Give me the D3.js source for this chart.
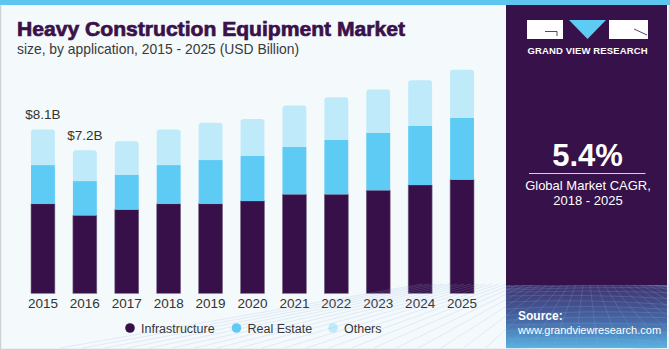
<!DOCTYPE html>
<html>
<head>
<meta charset="utf-8">
<script src="https://cdn.jsdelivr.net/npm/d3@7"></script>
<style>
html,body{margin:0;padding:0;background:#fff;}
svg{display:block;}
</style>
</head>
<body>
<svg id="chart" width="670" height="350"></svg>
<script>
const years = ["2015","2016","2017","2018","2019","2020","2021","2022","2023","2024","2025"];
const infrastructure = [4.42,3.85,4.13,4.42,4.42,4.56,4.89,4.89,5.09,5.35,5.61];
const realEstate     = [1.91,1.69,1.73,1.91,2.16,2.22,2.35,2.68,2.83,2.93,3.06];
const others         = [1.76,1.52,1.65,1.76,1.84,1.83,2.04,2.11,2.14,2.24,2.37];
const seriesNames = ["Infrastructure","Real Estate","Others"];
const valueLabels = [{year:"2015", text:"$8.1B"},{year:"2016", text:"$7.2B"}];

const colors = {"Infrastructure":"#381049","Real Estate":"#5ecbf5","Others":"#bfeafa"};

const svg = d3.select("#chart");
const W = 670, H = 350;

svg.append("rect").attr("x",0).attr("y",0).attr("width",W).attr("height",H).attr("fill","#f4f9fc");
svg.append("rect").attr("x",0.5).attr("y",0.5).attr("width",W-1).attr("height",H-1)
  .attr("fill","none").attr("stroke","#cfd3d6").attr("stroke-width",1.5);
svg.append("rect").attr("x",0).attr("y",0).attr("width",W).attr("height",5).attr("fill","#5cc6ee");

svg.append("text").attr("x",17).attr("y",36)
  .attr("font-family","'Liberation Sans', Arial, sans-serif").attr("font-weight","900")
  .attr("font-size",21).attr("fill","#3a1149")
  .attr("textLength",388).attr("lengthAdjust","spacingAndGlyphs")
  .style("stroke","#3a1149").style("stroke-width",0.7)
  .text("Heavy Construction Equipment Market");
svg.append("text").attr("x",17).attr("y",53.5)
  .attr("font-family","'Liberation Sans', Arial, sans-serif")
  .attr("font-size",14.5).attr("fill","#3a3a3a")
  .attr("textLength",282).attr("lengthAdjust","spacingAndGlyphs")
  .text("size, by application, 2015 - 2025 (USD Billion)");

const x = d3.scaleBand().domain(years).range([22,483]).paddingInner(0.43).paddingOuter(0.215);
const y = d3.scaleLinear().domain([0,10]).range([293.3, 293.3-202.5]);

const data = years.map((yr,i)=>({year:yr,"Infrastructure":infrastructure[i],"Real Estate":realEstate[i],"Others":others[i]}));
const stack = d3.stack().keys(seriesNames)(data);

const g = svg.append("g");
stack.forEach(layer=>{
  const key = layer.key;
  layer.forEach(d=>{
    const x0 = x(d.data.year), w = x.bandwidth();
    const yTop = y(d[1]), yBot = y(d[0]);
    if(key==="Others"){
      const r = 3;
      const p = `M${x0},${yBot} L${x0},${yTop+r} Q${x0},${yTop} ${x0+r},${yTop} L${x0+w-r},${yTop} Q${x0+w},${yTop} ${x0+w},${yTop+r} L${x0+w},${yBot} Z`;
      g.append("path").attr("d",p).attr("fill",colors[key]);
    } else {
      g.append("rect").attr("x",x0).attr("y",yTop).attr("width",w).attr("height",yBot-yTop)
        .attr("fill",colors[key])
        .attr("stroke", key==="Infrastructure" ? "#7a6a8a" : "none")
        .attr("stroke-width", key==="Infrastructure" ? 0.6 : 0);
    }
  });
});

valueLabels.forEach(v=>{
  const i = years.indexOf(v.year);
  const total = infrastructure[i]+realEstate[i]+others[i];
  svg.append("text").attr("x",x(v.year)+x.bandwidth()/2).attr("y",y(total)-10.5)
    .attr("text-anchor","middle").attr("font-family","'Liberation Sans', Arial, sans-serif")
    .attr("font-size",13.5).attr("fill","#333").text(v.text);
});

const xAxis = d3.axisBottom(x).tickSize(0).tickPadding(0);
const ax = svg.append("g").attr("transform","translate(0,308)").call(xAxis);
ax.select(".domain").remove();
ax.selectAll("text").attr("dy",0).attr("y",0)
  .attr("font-family","'Liberation Sans', Arial, sans-serif").attr("font-size",13.5).attr("fill","#333");

const legendPos = [{cx:130, tx:141},{cx:236.5, tx:247.5},{cx:333, tx:344}];
seriesNames.forEach((s,i)=>{
  svg.append("circle").attr("cx",legendPos[i].cx).attr("cy",328).attr("r",4.8).attr("fill",colors[s]);
  svg.append("text").attr("x",legendPos[i].tx).attr("y",332.5)
    .attr("font-family","'Liberation Sans', Arial, sans-serif").attr("font-size",12.5).attr("fill","#333").text(s);
});

const defs = svg.append("defs");
const grad = defs.append("linearGradient").attr("id","pg").attr("x1",0).attr("y1",0).attr("x2",0).attr("y2",1);
grad.append("stop").attr("offset","0%").attr("stop-color","#371149");
grad.append("stop").attr("offset","73%").attr("stop-color","#371149");
grad.append("stop").attr("offset","81%").attr("stop-color","#3e2f69");
grad.append("stop").attr("offset","92%").attr("stop-color","#4668a6");
grad.append("stop").attr("offset","100%").attr("stop-color","#5ab2e2");
const px = 506, pw = 667-506;
svg.append("rect").attr("x",px).attr("y",5).attr("width",pw).attr("height",343).attr("fill","url(#pg)");

const gridG = svg.append("g").attr("stroke","#8fb4e0").attr("stroke-opacity",0.35).attr("stroke-width",0.6).attr("fill","none");
const horizonY = 284;
for(let k=0;k<14;k++){
  const t = k/13;
  const yy = horizonY + Math.pow(t,1.6)*64;
  gridG.append("path").attr("d",`M${px},${yy+Math.sin(k)*2} Q${px+pw/2},${yy-4} ${px+pw},${yy+Math.cos(k)*2}`);
}
for(let k=-12;k<=24;k++){
  const xt = px + k*7;
  const xb = px + pw/2 + (xt - (px+pw/2))*3.2;
  gridG.append("line").attr("x1",xt).attr("y1",horizonY).attr("x2",xb).attr("y2",348);
}
svg.append("rect").attr("x",px).attr("y",5).attr("width",pw).attr("height",280).attr("fill","#371149");

const logo = svg.append("g");
logo.append("rect").attr("x",527).attr("y",20).attr("width",36).attr("height",19).attr("fill","#fff");
logo.append("path").attr("d","M545,31.5 L557,31.5 L557,36").attr("stroke","#371149").attr("stroke-width",0.8).attr("fill","none");
logo.append("path").attr("d","M569,20 L606,20 L587.5,39 Z").attr("fill","#5ecbf5");
logo.append("rect").attr("x",609).attr("y",20).attr("width",39).attr("height",19).attr("fill","#fff");
logo.append("path").attr("d","M634,29 L647,35").attr("stroke","#371149").attr("stroke-width",0.8);
svg.append("text").attr("x",587.5).attr("y",53.5).attr("text-anchor","middle")
  .attr("font-family","'Liberation Sans', Arial, sans-serif").attr("font-weight","bold")
  .attr("font-size",9.5).attr("fill","#fff").attr("textLength",120).attr("lengthAdjust","spacing")
  .text("GRAND VIEW RESEARCH");

svg.append("text").attr("x",587.5).attr("y",166).attr("text-anchor","middle")
  .attr("font-family","'Liberation Sans', Arial, sans-serif").attr("font-weight","bold")
  .attr("font-size",31).attr("fill","#fff").text("5.4%");
svg.append("line").attr("x1",529).attr("x2",645.5).attr("y1",173.5).attr("y2",173.5)
  .attr("stroke","#d8cfe0").attr("stroke-width",1);
svg.append("text").attr("x",588).attr("y",190).attr("text-anchor","middle")
  .attr("font-family","'Liberation Sans', Arial, sans-serif").attr("font-size",13).attr("fill","#fff")
  .text("Global Market CAGR,");
svg.append("text").attr("x",588).attr("y",205).attr("text-anchor","middle")
  .attr("font-family","'Liberation Sans', Arial, sans-serif").attr("font-size",13).attr("fill","#fff")
  .text("2018 - 2025");

svg.append("text").attr("x",518).attr("y",320)
  .attr("font-family","'Liberation Sans', Arial, sans-serif").attr("font-weight","bold")
  .attr("font-size",12).attr("fill","#fff").text("Source:");
svg.append("text").attr("x",518).attr("y",333.5)
  .attr("font-family","'Liberation Sans', Arial, sans-serif")
  .attr("font-size",11).attr("fill","#fff")
  .text("www.grandviewresearch.com");
</script>
</body>
</html>
